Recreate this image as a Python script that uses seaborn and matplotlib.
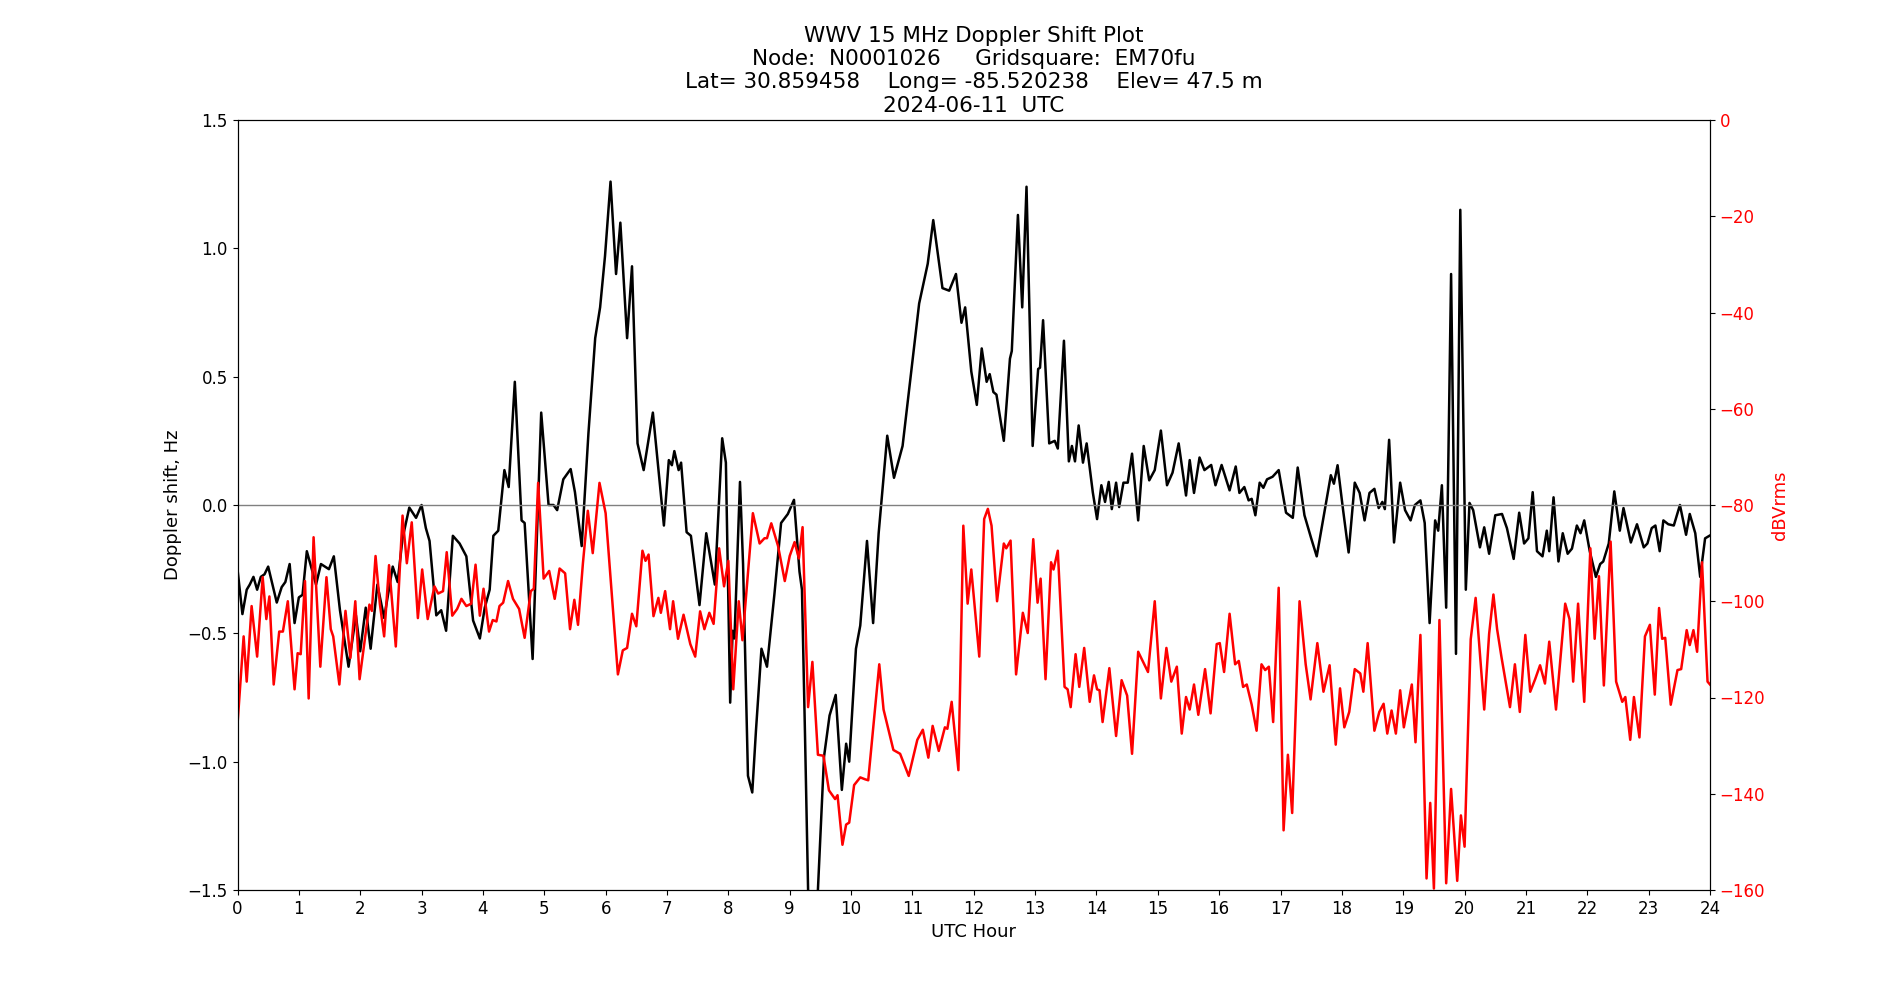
import numpy as np
import pandas as pd
import seaborn as sns
import matplotlib
matplotlib.use('Agg')
import matplotlib.pylab as plt

# doppler shift (Hz)
dop_hour = [0.0, 0.08, 0.15, 0.2, 0.26, 0.32, 0.38, 0.44, 0.5, 0.56, 0.64, 0.72, 0.78, 0.85, 0.93,
	1.0, 1.06, 1.13, 1.2, 1.28, 1.36, 1.49, 1.57, 1.67, 1.81, 1.93, 2.0, 2.09, 2.17, 2.28, 2.39,
	2.53, 2.61, 2.69, 2.8, 2.91, 3.0, 3.07, 3.13, 3.24, 3.32, 3.4, 3.51, 3.62, 3.73, 3.84, 3.95,
	4.03, 4.11, 4.17, 4.25, 4.35, 4.42, 4.52, 4.63, 4.68, 4.81, 4.95, 5.07, 5.15, 5.21, 5.31, 5.43,
	5.5, 5.61, 5.72, 5.83, 5.91, 5.99, 6.08, 6.17, 6.24, 6.35, 6.43, 6.52, 6.62, 6.77, 6.95, 7.03,
	7.08, 7.12, 7.19, 7.23, 7.32, 7.39, 7.53, 7.64, 7.78, 7.9, 7.96, 8.03, 8.07, 8.1, 8.19, 8.24,
	8.32, 8.39, 8.45, 8.54, 8.63, 8.75, 8.86, 8.97, 9.07, 9.16, 9.2, 9.25, 9.3, 9.37, 9.46, 9.56,
	9.65, 9.75, 9.85, 9.92, 9.97, 10.08, 10.15, 10.26, 10.36, 10.45, 10.59, 10.7, 10.84, 11.0, 11.11,
	11.25, 11.34, 11.49, 11.6, 11.71, 11.8, 11.86, 11.96, 12.05, 12.13, 12.21, 12.26, 12.32, 12.37,
	12.49, 12.59, 12.62, 12.72, 12.79, 12.86, 12.96, 13.05, 13.08, 13.13, 13.23, 13.32, 13.37, 13.47,
	13.55, 13.6, 13.65, 13.71, 13.78, 13.84, 13.94, 14.01, 14.08, 14.14, 14.2, 14.25, 14.32, 14.37,
	14.44, 14.51, 14.58, 14.68, 14.77, 14.86, 14.95, 15.05, 15.15, 15.24, 15.34, 15.46, 15.52, 15.59,
	15.68, 15.76, 15.87, 15.94, 16.04, 16.17, 16.27, 16.33, 16.41, 16.48, 16.53, 16.59, 16.66, 16.72,
	16.78, 16.87, 16.97, 17.09, 17.2, 17.28, 17.39, 17.5, 17.59, 17.7, 17.82, 17.87, 17.93, 18.02,
	18.11, 18.21, 18.29, 18.37, 18.45, 18.53, 18.6, 18.66, 18.7, 18.77, 18.85, 18.95, 19.03, 19.12,
	19.19, 19.28, 19.35, 19.43, 19.52, 19.57, 19.63, 19.7, 19.78, 19.86, 19.93, 20.02, 20.08, 20.14,
	20.25, 20.32, 20.4, 20.5, 20.61, 20.69, 20.8, 20.89, 20.97, 21.04, 21.11, 21.18, 21.27, 21.34,
	21.38, 21.45, 21.53, 21.6, 21.68, 21.75, 21.83, 21.89, 21.95, 22.04, 22.14, 22.21, 22.26, 22.35,
	22.44, 22.53, 22.59, 22.71, 22.81, 22.92, 22.98, 23.05, 23.11, 23.18, 23.24, 23.32, 23.41, 23.51,
	23.61, 23.67, 23.76, 23.84, 23.92, 23.99]
dop_hz = [-0.25, -0.425, -0.33, -0.31, -0.28, -0.33, -0.28, -0.27, -0.24, -0.30, -0.38, -0.32, -0.30, -0.23, -0.46,
	-0.36, -0.35, -0.18, -0.24, -0.31, -0.23, -0.25, -0.20, -0.41, -0.63, -0.43, -0.57, -0.40, -0.56, -0.31, -0.44,
	-0.24, -0.30, -0.13, -0.01, -0.05, 0.0, -0.09, -0.14, -0.43, -0.41, -0.49, -0.12, -0.15, -0.20, -0.45, -0.52,
	-0.40, -0.33, -0.12, -0.10, 0.136, 0.07, 0.48, -0.06, -0.07, -0.60, 0.36, 0.0, 0.0, -0.02, 0.10, 0.14,
	0.05, -0.16, 0.28, 0.65, 0.77, 0.97, 1.26, 0.90, 1.10, 0.65, 0.93, 0.24, 0.136, 0.36, -0.08, 0.175,
	0.155, 0.21, 0.136, 0.165, -0.106, -0.12, -0.39, -0.11, -0.31, 0.26, 0.165, -0.77, -0.49, -0.52, 0.09, -0.23,
	-1.055, -1.12, -0.88, -0.56, -0.63, -0.35, -0.07, -0.035, 0.02, -0.26, -0.33, -0.9, -1.5, -2.0, -1.5, -0.98,
	-0.82, -0.74, -1.11, -0.93, -1.0, -0.56, -0.47, -0.14, -0.46, -0.11, 0.27, 0.106, 0.23, 0.56, 0.785,
	0.94, 1.11, 0.845, 0.835, 0.90, 0.71, 0.77, 0.52, 0.39, 0.61, 0.48, 0.51, 0.44, 0.43,
	0.25, 0.57, 0.60, 1.13, 0.77, 1.24, 0.23, 0.53, 0.535, 0.72, 0.24, 0.25, 0.22, 0.64,
	0.17, 0.23, 0.17, 0.31, 0.165, 0.24, 0.05, -0.055, 0.077, 0.012, 0.09, -0.016, 0.087, -0.008,
	0.087, 0.087, 0.20, -0.06, 0.23, 0.096, 0.136, 0.29, 0.077, 0.126, 0.24, 0.037, 0.175, 0.047,
	0.185, 0.136, 0.156, 0.077, 0.156, 0.057, 0.15, 0.047, 0.07, 0.018, 0.024, -0.04, 0.087, 0.067,
	0.10, 0.11, 0.136, -0.03, -0.05, 0.146, -0.04, -0.13, -0.20, -0.05, 0.116, 0.083, 0.155, -0.02,
	-0.185, 0.087, 0.047, -0.06, 0.047, 0.063, -0.012, 0.012, -0.016, 0.254, -0.146, 0.087, -0.02, -0.06,
	0.0, 0.018, -0.07, -0.46, -0.06, -0.10, 0.077, -0.40, 0.90, -0.58, 1.15, -0.33, 0.008, -0.02,
	-0.165, -0.087, -0.19, -0.04, -0.035, -0.09, -0.21, -0.03, -0.15, -0.13, 0.05, -0.18, -0.20, -0.10,
	-0.18, 0.03, -0.22, -0.11, -0.19, -0.17, -0.08, -0.11, -0.06, -0.18, -0.28, -0.23, -0.22, -0.15,
	0.053, -0.10, -0.012, -0.146, -0.075, -0.165, -0.15, -0.09, -0.08, -0.18, -0.06, -0.075, -0.08, 0.0,
	-0.116, -0.035, -0.11, -0.28, -0.13, -0.12]

# received level (dBVrms)
amp_hour = [0.0, 0.1, 0.15, 0.23, 0.32, 0.41, 0.47, 0.52, 0.59, 0.68, 0.74, 0.82, 0.93, 0.98, 1.03,
	1.1, 1.16, 1.24, 1.35, 1.45, 1.52, 1.56, 1.66, 1.76, 1.84, 1.92, 1.99, 2.07, 2.15, 2.19, 2.25,
	2.32, 2.39, 2.47, 2.58, 2.69, 2.76, 2.84, 2.94, 3.01, 3.1, 3.21, 3.27, 3.35, 3.41, 3.5, 3.58,
	3.65, 3.73, 3.81, 3.88, 3.95, 4.01, 4.1, 4.16, 4.22, 4.27, 4.33, 4.41, 4.49, 4.59, 4.68, 4.78,
	4.83, 4.9, 4.99, 5.08, 5.17, 5.25, 5.34, 5.42, 5.49, 5.55, 5.63, 5.71, 5.79, 5.9, 6.0, 6.1,
	6.2, 6.28, 6.35, 6.43, 6.5, 6.6, 6.65, 6.7, 6.78, 6.86, 6.9, 6.97, 7.05, 7.1, 7.18, 7.27,
	7.38, 7.46, 7.54, 7.61, 7.69, 7.76, 7.85, 7.93, 8.0, 8.08, 8.17, 8.23, 8.4, 8.51, 8.59, 8.63,
	8.7, 8.81, 8.92, 9.0, 9.08, 9.15, 9.21, 9.3, 9.37, 9.46, 9.55, 9.64, 9.74, 9.78, 9.86, 9.92,
	9.97, 10.05, 10.15, 10.23, 10.28, 10.46, 10.53, 10.69, 10.8, 10.94, 11.08, 11.17, 11.26, 11.33,
	11.43, 11.53, 11.57, 11.64, 11.75, 11.83, 11.9, 11.96, 12.09, 12.17, 12.23, 12.29, 12.38, 12.49,
	12.53, 12.6, 12.69, 12.8, 12.88, 12.97, 13.04, 13.09, 13.17, 13.26, 13.3, 13.37, 13.48, 13.53,
	13.58, 13.66, 13.72, 13.8, 13.89, 13.96, 14.01, 14.05, 14.1, 14.21, 14.32, 14.41, 14.5, 14.58,
	14.68, 14.76, 14.84, 14.95, 15.05, 15.14, 15.22, 15.31, 15.39, 15.46, 15.52, 15.59, 15.66, 15.77,
	15.86, 15.96, 16.01, 16.08, 16.17, 16.26, 16.32, 16.39, 16.45, 16.53, 16.61, 16.69, 16.75, 16.81,
	16.88, 16.97, 17.05, 17.12, 17.19, 17.31, 17.41, 17.49, 17.6, 17.7, 17.8, 17.9, 17.97, 18.04,
	18.12, 18.21, 18.3, 18.35, 18.42, 18.53, 18.61, 18.68, 18.74, 18.81, 18.88, 18.95, 19.01, 19.14,
	19.2, 19.28, 19.38, 19.44, 19.5, 19.59, 19.7, 19.78, 19.88, 19.94, 20.0, 20.1, 20.18, 20.25,
	20.32, 20.4, 20.47, 20.53, 20.6, 20.74, 20.82, 20.9, 20.99, 21.07, 21.15, 21.23, 21.31, 21.38,
	21.49, 21.64, 21.71, 21.77, 21.85, 21.95, 22.05, 22.12, 22.19, 22.27, 22.38, 22.47, 22.57, 22.62,
	22.7, 22.76, 22.85, 22.94, 23.02, 23.1, 23.17, 23.22, 23.27, 23.36, 23.47, 23.53, 23.62, 23.67,
	23.73, 23.79, 23.87, 23.96, 24.0]
amp_db = [-125.6, -107.3, -116.7, -101, -111.5, -95, -103.7, -99, -117.3, -106.3, -106.3, -100, -118.3, -110.8, -111,
	-95.8, -120.2, -86.7, -113.6, -95, -105.8, -107.3, -117.3, -102, -111.8, -100, -116.2, -108.4, -100.7, -102, -90.6,
	-100.5, -107.3, -92.5, -109.4, -82.2, -92.1, -83.6, -103.5, -93.4, -103.7, -96.9, -98.4, -97.9, -89.8, -103, -101.6,
	-99.5, -101, -100.5, -92.4, -103, -97.4, -106.3, -103.9, -104.2, -101, -100.3, -95.8, -99.5, -101.6, -107.6, -97.9,
	-97.4, -75.4, -95.3, -93.7, -99.5, -93.2, -94.2, -105.8, -99.7, -104.9, -92.1, -81.2, -90, -75.4, -81.7, -98.4,
	-115.2, -110.2, -109.7, -102.6, -105.2, -89.5, -91.6, -90.3, -103.1, -99.3, -102.4, -97.9, -105.8, -100, -107.8, -102.8,
	-108.9, -111.5, -102.1, -105.8, -102.4, -104.7, -89, -96.9, -91.6, -118.3, -100, -108.1, -81.7, -88, -86.9, -86.9,
	-83.8, -88.5, -95.8, -90.6, -87.7, -91.1, -84.6, -122, -112.6, -131.9, -132.1, -139.3, -141.1, -140.3, -150.6, -146.4,
	-146, -138.2, -136.6, -137, -137.2, -113.1, -122.5, -130.9, -131.7, -136.3, -128.8, -126.7, -132.5, -125.9,
	-131.1, -126.2, -126.5, -120.9, -135.1, -84.3, -100.5, -93.4, -111.5, -82.9, -80.8, -84.3, -100, -88,
	-89, -87.4, -115.2, -102.4, -106.6, -87.1, -100.3, -95.3, -116.2, -91.9, -93.4, -89.5, -117.8, -118.3,
	-122, -111, -117.8, -109.7, -120.9, -115.4, -118.3, -118.5, -125.1, -113.9, -128, -116.4, -119.6, -131.7,
	-110.5, -112.6, -114.7, -100, -120.2, -109.7, -116.7, -113.6, -127.5, -119.9, -122.5, -117.3, -123.6, -114.1,
	-123.3, -108.9, -108.7, -114.7, -102.6, -113.1, -112.4, -117.8, -117.3, -121.5, -126.9, -113.1, -114.3, -113.6,
	-125.1, -97.2, -147.6, -131.9, -144, -100, -113.1, -120.4, -108.7, -118.8, -113.3, -129.8, -118.1, -126.2,
	-123, -114.1, -115, -118.8, -108.7, -126.9, -123, -121.3, -127.5, -122.7, -127.5, -118.5, -126.2, -117.3,
	-129.3, -107, -157.6, -141.9, -159.7, -103.9, -158.6, -139, -158.1, -144.5, -151, -107.9, -99.3, -111,
	-122.5, -106.8, -98.6, -105.8, -111.5, -122, -113.1, -123, -107, -118.8, -116.2, -113.3, -117.1, -108.4,
	-122.5, -100.5, -103.7, -116.7, -100.5, -120.9, -89, -107.8, -94.8, -117.5, -87.6, -116.7, -120.9, -119.9,
	-128.8, -119.9, -128.3, -107.3, -104.9, -119.4, -101.4, -107.8, -107.6, -121.5, -114.3, -114.1, -106, -109.1,
	-106, -110.5, -91.9, -116.7, -117.3]

hour_ticks = list(range(0, 25))
db_ticks = [0, -20, -40, -60, -80, -100, -120, -140, -160]

title_txt = ('WWV 15 MHz Doppler Shift Plot\n'
	'Node:  N0001026     Gridsquare:  EM70fu\n'
	'Lat= 30.859458    Long= -85.520238    Elev= 47.5 m\n'
	'2024-06-11  UTC')

df_dop = pd.DataFrame({'hour': dop_hour, 'shift': dop_hz})
df_amp = pd.DataFrame({'hour': amp_hour, 'db': amp_db})

plt.rcParams['font.family'] = ['DejaVu Sans']
fig, ax = plt.subplots(figsize=(19, 10), dpi=100)

sns.lineplot(data=df_dop, x='hour', y='shift', ax=ax, color='black', lw=1.8)
ax.axhline(0, color='gray', lw=1)
ax.set_xlim(0, 24)
ax.set_ylim(-1.5, 1.5)
ax.set_xticks(hour_ticks)
ax.set_xlabel('UTC Hour', fontsize=13)
ax.set_ylabel('Doppler shift, Hz', fontsize=13)
ax.tick_params(labelsize=12)
ax.set_title(title_txt, fontsize=15.5)

ax2 = ax.twinx()
sns.lineplot(data=df_amp, x='hour', y='db', ax=ax2, color='red', lw=1.8)
ax2.set_ylim(-160, 0)
ax2.set_yticks(db_ticks)
ax2.set_ylabel('dBVrms', color='red', fontsize=13)
ax2.tick_params(axis='y', labelcolor='red', labelsize=12)
ax2.set_xlim(0, 24)

fig.savefig('out.png', dpi=100)
plt.close()
